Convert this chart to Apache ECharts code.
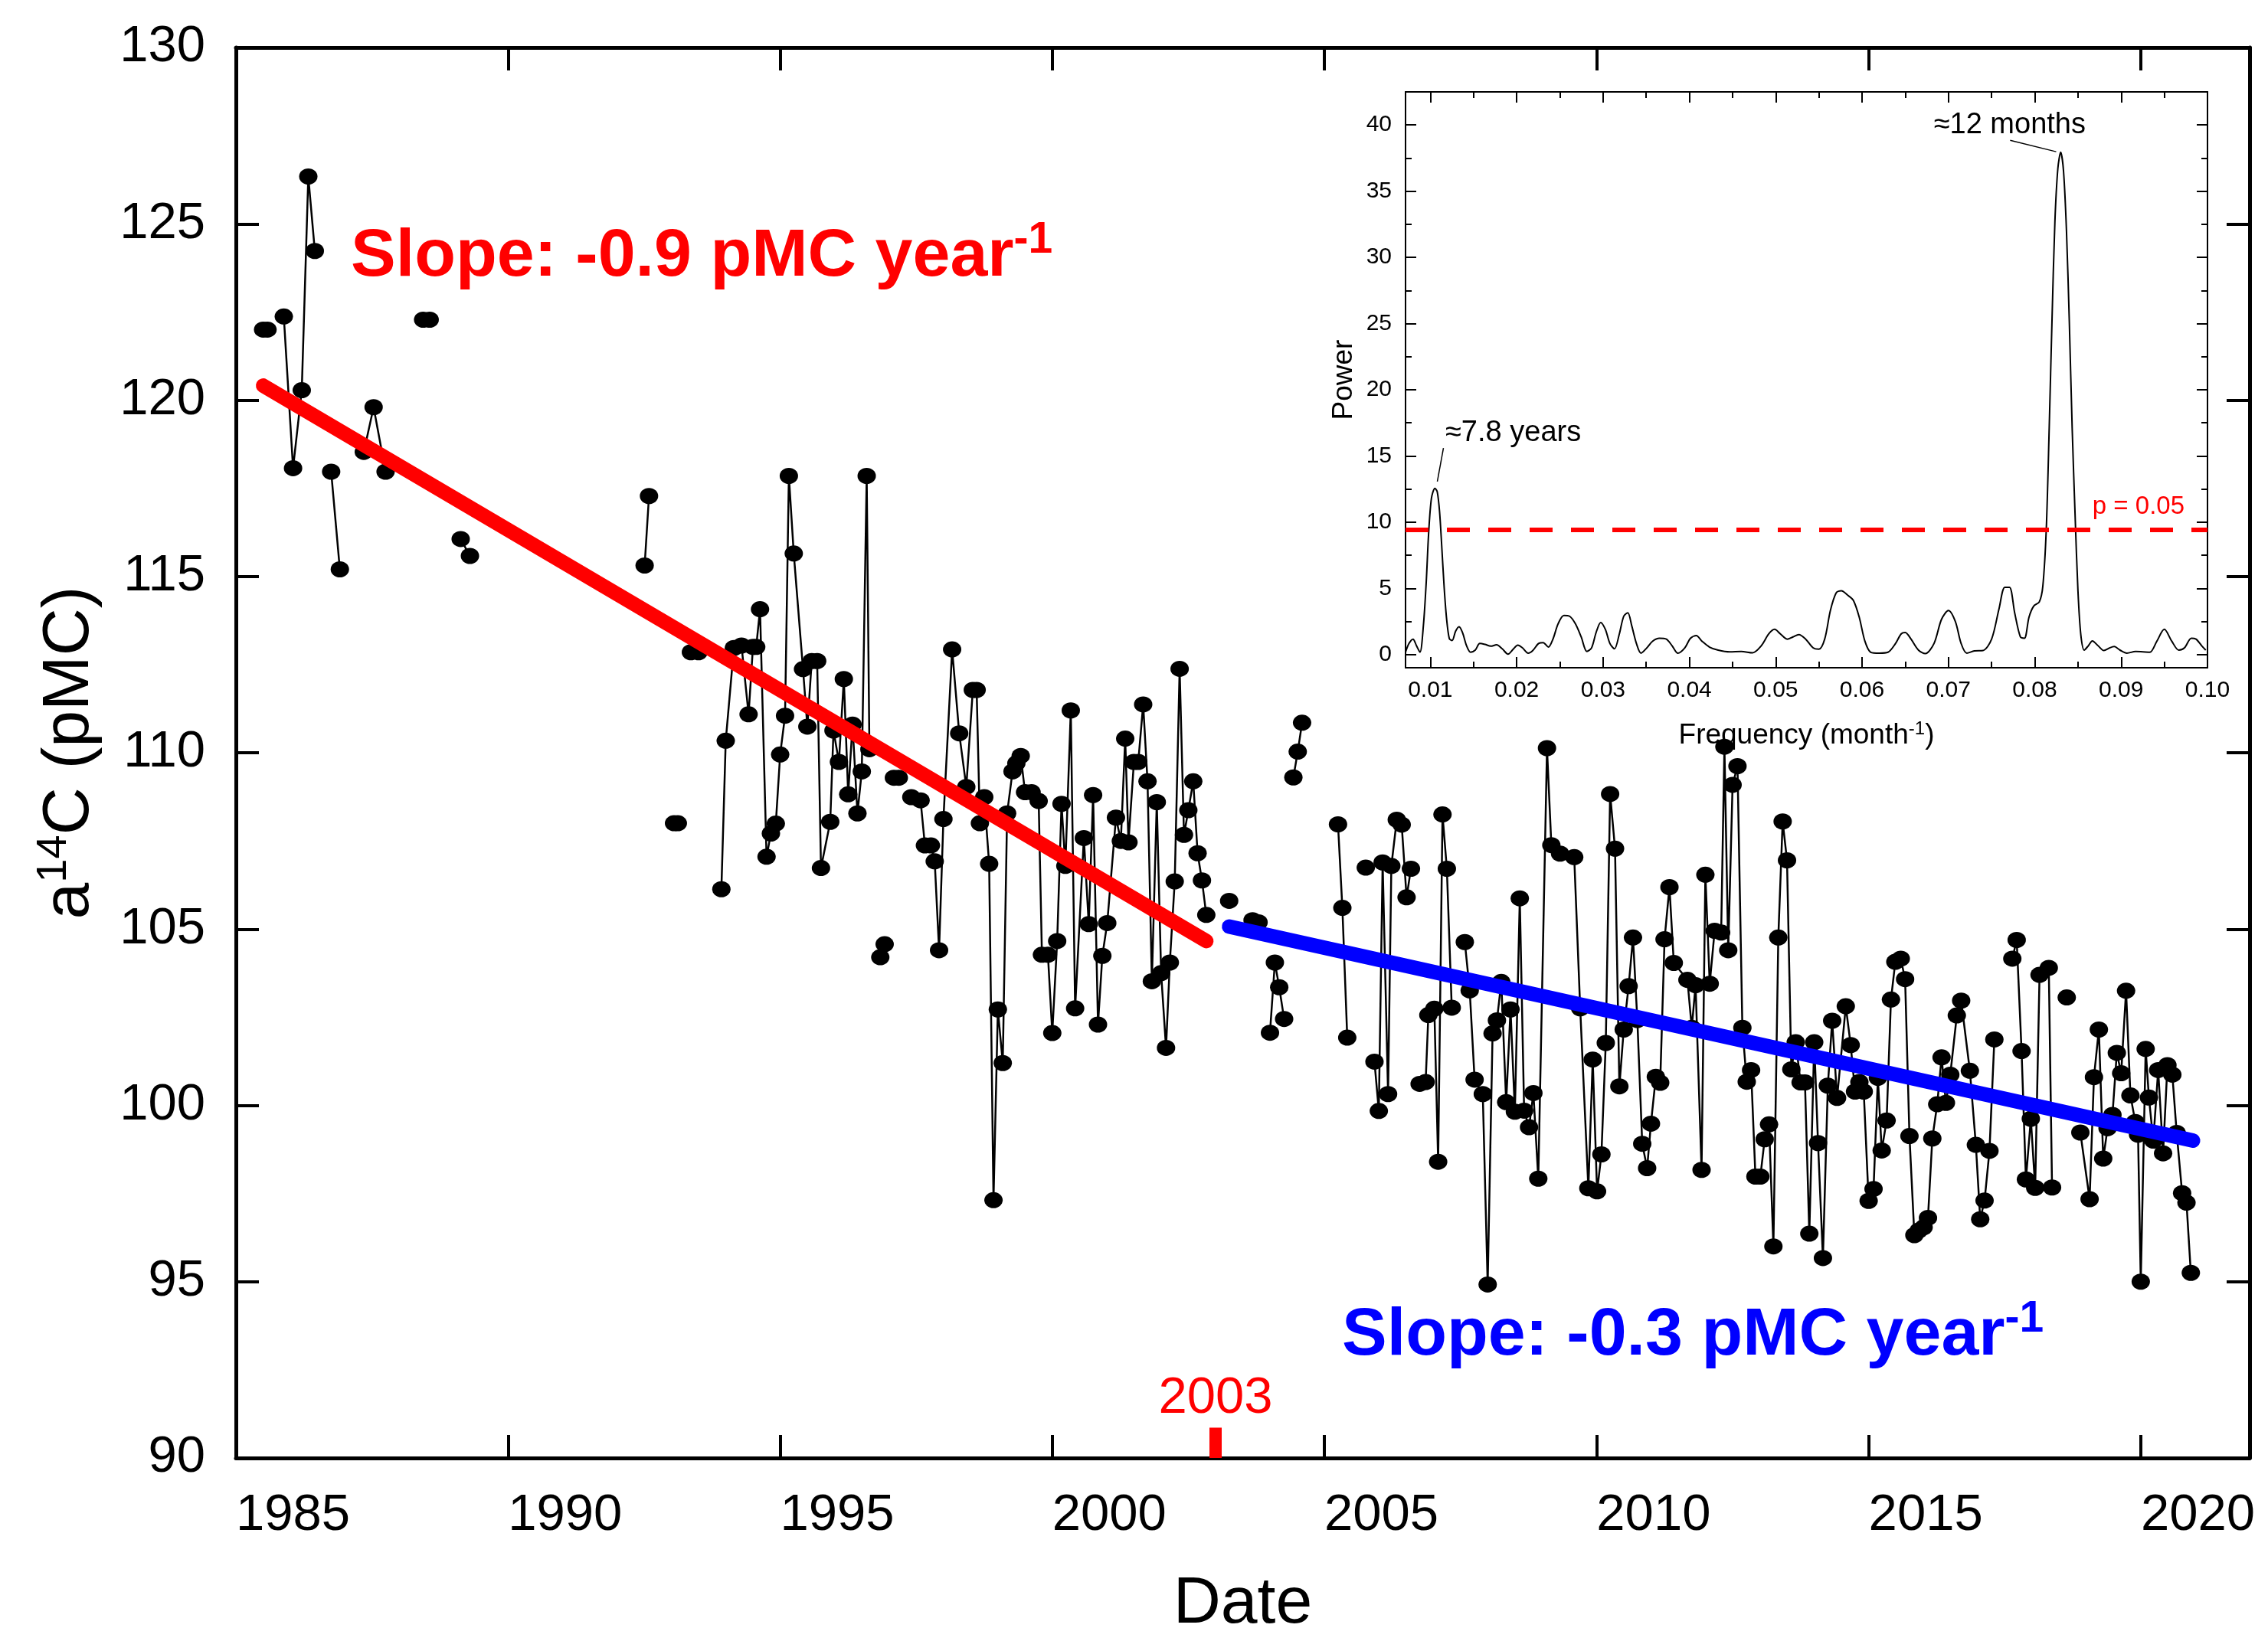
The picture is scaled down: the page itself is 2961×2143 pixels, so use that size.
<!DOCTYPE html>
<html>
<head>
<meta charset="utf-8">
<script src="https://cdn.jsdelivr.net/npm/echarts@6/dist/echarts.min.js"></script>
<style>
  html, body { margin: 0; padding: 0; background: #fff; }
  #main { width: 2961px; height: 2143px; }
</style>
</head>
<body>
<div id="main"></div>
<script>
// a14C record (pMC) by decimal date; null = break in the line (no data)
var dates = [
  1985.50, 1985.58, 1985.72, 1985.88, 1986.05, 1986.21, 1986.33, 1986.45, 1986.60, 1986.75,
  1986.91, 1987.10, 1987.35, 1987.53, 1987.75, 1988.10, 1988.44, 1988.56, 1988.80, 1989.13,
  1989.30, 1991.00, 1992.51, 1992.59, 1992.80, 1993.05, 1993.12, 1993.25, 1993.36, 1993.50,
  1993.75, 1993.92, 1994.00, 1994.15, 1994.29, 1994.42, 1994.50, 1994.56, 1994.63, 1994.75,
  1994.83, 1994.92, 1995.00, 1995.09, 1995.16, 1995.25, 1995.42, 1995.50, 1995.58, 1995.68,
  1995.75, 1995.92, 1995.98, 1996.08, 1996.17, 1996.25, 1996.33, 1996.42, 1996.50, 1996.59,
  1996.64, 1996.75, 1996.84, 1996.92, 1997.00, 1997.09, 1997.18, 1997.30, 1997.41, 1997.58,
  1997.66, 1997.77, 1997.84, 1997.92, 1998.00, 1998.16, 1998.29, 1998.42, 1998.54, 1998.61,
  1998.67, 1998.75, 1998.84, 1998.92, 1999.00, 1999.09, 1999.17, 1999.27, 1999.34, 1999.42,
  1999.50, 1999.62, 1999.75, 1999.81, 1999.92, 2000.00, 2000.09, 2000.17, 2000.24, 2000.34,
  2000.42, 2000.58, 2000.67, 2000.75, 2000.84, 2000.92, 2001.01, 2001.17, 2001.26, 2001.34,
  2001.40, 2001.50, 2001.58, 2001.67, 2001.75, 2001.83, 2001.92, 2002.00, 2002.09, 2002.16,
  2002.25, 2002.34, 2002.42, 2002.50, 2002.59, 2002.67, 2002.75, 2002.83, 2003.05, 2003.25,
  2003.45, 2003.68, 2003.79, 2003.90, 2004.00, 2004.09, 2004.17, 2004.26, 2004.35, 2004.43,
  2004.51, 2004.59, 2004.90, 2005.25, 2005.33, 2005.42, 2005.60, 2005.76, 2005.85, 2005.92,
  2006.00, 2006.07, 2006.17, 2006.23, 2006.33, 2006.42, 2006.51, 2006.59, 2006.67, 2006.75,
  2006.86, 2006.91, 2007.02, 2007.09, 2007.17, 2007.25, 2007.34, 2007.46, 2007.58, 2007.67,
  2007.76, 2007.91, 2008.00, 2008.09, 2008.17, 2008.25, 2008.34, 2008.42, 2008.50, 2008.59,
  2008.67, 2008.76, 2008.84, 2008.93, 2009.09, 2009.17, 2009.33, 2009.59, 2009.70, 2009.85,
  2009.93, 2010.01, 2010.09, 2010.17, 2010.25, 2010.34, 2010.42, 2010.50, 2010.59, 2010.67,
  2010.75, 2010.84, 2010.93, 2011.00, 2011.09, 2011.17, 2011.25, 2011.34, 2011.42, 2011.67,
  2011.75, 2011.82, 2011.93, 2012.00, 2012.08, 2012.17, 2012.29, 2012.35, 2012.42, 2012.50,
  2012.59, 2012.68, 2012.76, 2012.84, 2012.92, 2013.01, 2013.09, 2013.17, 2013.25, 2013.34,
  2013.42, 2013.50, 2013.58, 2013.66, 2013.75, 2013.83, 2013.91, 2014.00, 2014.07, 2014.16,
  2014.25, 2014.33, 2014.42, 2014.58, 2014.67, 2014.75, 2014.83, 2014.91, 2015.00, 2015.09,
  2015.17, 2015.24, 2015.33, 2015.41, 2015.49, 2015.59, 2015.67, 2015.75, 2015.84, 2015.92,
  2016.01, 2016.09, 2016.17, 2016.26, 2016.34, 2016.42, 2016.50, 2016.62, 2016.70, 2016.86,
  2016.97, 2017.05, 2017.13, 2017.22, 2017.31, 2017.48, 2017.64, 2017.72, 2017.81, 2017.89,
  2017.98, 2018.06, 2018.14, 2018.31, 2018.37, 2018.50, 2018.64, 2018.76, 2018.89, 2019.06,
  2019.14, 2019.23, 2019.31, 2019.39, 2019.48, 2019.56, 2019.64, 2019.73, 2019.81, 2019.90,
  2019.95, 2020.00, 2020.09, 2020.15, 2020.23, 2020.32, 2020.41, 2020.49, 2020.58, 2020.66,
  2020.76, 2020.84, 2020.92
];
var pmc = [
  122.0, 122.0, null, 122.37, 118.07, 120.28, 126.34, 124.23, null, 117.97,
  115.2, null, 118.53, 119.8, 117.97, null, 122.28, 122.28, null, 116.06,
  115.58, null, 115.31, 117.28, null, 108.0, 108.0, null, 112.85, 112.85,
  null, 106.13, 110.34, 112.97, 113.04, 111.09, 113.0, 113.0, 114.07, 107.05,
  107.71, 107.99, 109.95, 111.05, 117.85, 115.65, 112.37, 110.74, 112.6, 112.6,
  106.73, 108.04, 110.63, 109.74, 112.09, 108.82, 110.8, 108.28, 109.47, 117.85,
  110.1, null, 104.2, 104.57, null, 109.29, 109.29, null, 108.74, 108.65,
  107.37, 107.37, 106.92, 104.4, 108.12, 112.93, 110.55, 109.03, 111.78, 111.78,
  108.0, 108.74, 106.85, 97.31, 102.72, 101.2, 108.28, 109.47, 109.7, 109.91,
  108.88, 108.88, 108.63, 104.27, 104.27, 102.05, 104.66, 108.55, 106.79, 111.2,
  102.75, 107.58, 105.14, 108.8, 102.29, 104.24, 105.17, 108.16, 107.5, 110.4,
  107.46, 109.74, 109.74, 111.37, 109.19, 103.52, 108.6, 103.75, 101.63, 104.05,
  106.35, 112.38, 107.67, 108.37, 109.19, 107.15, 106.38, 105.4, null, 105.8,
  null, 105.25, 105.19, null, 102.06, 104.05, 103.35, 102.45, null, 109.3,
  110.03, 110.85, null, 107.97, 105.6, 101.92, null, 106.74, null, 101.24,
  99.84, 106.89, 100.32, 106.79, 108.1, 107.96, 105.9, 106.71, null, 100.61,
  100.66, 102.56, 102.74, 98.4, 108.25, 106.71, 102.77, null, 104.63, 103.26,
  100.73, 100.32, 94.92, 102.04, 102.41, 103.5, 100.09, 102.72, 99.82, 105.87,
  99.85, 99.38, 100.35, 97.92, 110.13, 107.38, 107.14, 107.04, 102.75, 97.65,
  101.3, 97.56, 98.61, 101.77, 108.83, 107.28, 100.54, 102.15, 103.38, 104.76,
  102.42, 98.91, 98.22, 99.48, 100.81, 100.64, 104.71, 106.19, 104.04, 103.56,
  102.2, 103.41, 98.17, 106.54, 103.45, 104.95, 104.9, 110.17, 104.4, 109.09,
  109.62, 102.2, 100.67, 101.0, 97.98, 97.98, 99.04, 99.46, 96.0, 104.76,
  108.05, 106.95, 101.02, 101.79, 100.65, 100.65, 96.36, 101.79, 98.93, 95.67,
  100.56, 102.4, 100.21, 102.81, 101.71, 100.39, 100.66, 100.39, 97.29, 97.63,
  100.78, 98.72, 99.57, 103.0, 104.07, 104.16, 103.58, 99.13, 96.32, 96.45,
  96.54, 96.81, 99.06, 100.03, 101.36, 100.07, 100.87, 102.55, 102.97, 100.98,
  98.88, 96.77, 97.3, 98.71, 101.87, null, 104.16, 104.69, 101.54, 97.9,
  99.62, 97.66, 103.7, 103.9, 97.67, null, 103.06, null, 99.23, 97.34,
  100.8, 102.15, 98.49, 99.35, 99.73, 101.49, 100.91, 103.25, 100.28, 99.53,
  99.17, 95.0, 101.6, 100.22, 99.0, 101.0, 98.64, 101.14, 100.87, 99.22,
  97.51, 97.24, 95.25
];

// linear fits (end points)
var redFitX = [1985.5, 2002.83];
var redFitY = [120.41, 104.66];
var blueFitX = [2003.25, 2020.96];
var blueFitY = [105.07, 99.0];
var breakYear = 2003;

var yearTicks = [1985, 1990, 1995, 2000, 2005, 2010, 2015, 2020];

// periodogram (inset)
var freq = [
  0.00713, 0.00753, 0.0080, 0.0084, 0.0088, 0.0092, 0.00953, 0.0098, 0.01013, 0.01053,
  0.0108, 0.01107, 0.01133, 0.0116, 0.01187, 0.0122, 0.01253, 0.01293, 0.01333, 0.01373,
  0.0142, 0.01467, 0.0152, 0.01573, 0.01633, 0.017, 0.01767, 0.01833, 0.019, 0.0196,
  0.02013, 0.02067, 0.02133, 0.02187, 0.02253, 0.02307, 0.02367, 0.0242, 0.0248, 0.02547,
  0.02613, 0.0268, 0.02747, 0.02813, 0.02867, 0.0292, 0.02973, 0.03027, 0.0308, 0.03133,
  0.03187, 0.0324, 0.03287, 0.03333, 0.03387, 0.0344, 0.03507, 0.03573, 0.03653, 0.03733,
  0.038, 0.03867, 0.03947, 0.04013, 0.0408, 0.04147, 0.04233, 0.04333, 0.04467, 0.046,
  0.04733, 0.04833, 0.0492, 0.04987, 0.05053, 0.05133, 0.052, 0.05267, 0.05347, 0.05433,
  0.055, 0.05567, 0.05633, 0.057, 0.0576, 0.05833, 0.059, 0.05967, 0.06033, 0.061,
  0.062, 0.063, 0.06387, 0.06453, 0.065, 0.06567, 0.06653, 0.06733, 0.06833, 0.0692,
  0.07, 0.0708, 0.07147, 0.07213, 0.073, 0.074, 0.075, 0.07587, 0.07653, 0.07707,
  0.07767, 0.07833, 0.0788, 0.07933, 0.07987, 0.08053, 0.08093, 0.08133, 0.08167, 0.082,
  0.08233, 0.08267, 0.083, 0.08333, 0.08367, 0.084, 0.08433, 0.08467, 0.085, 0.08533,
  0.08573, 0.0862, 0.08667, 0.08733, 0.088, 0.08867, 0.0892, 0.08987, 0.09067, 0.09167,
  0.09253, 0.09333, 0.09413, 0.095, 0.09587, 0.09667, 0.09733, 0.09813, 0.09867, 0.09933,
  0.0998
];
var power = [
  0.17, 0.83, 1.16, 0.66, 0.17, 2.2, 5.5, 9.1, 11.8, 12.55,
  12.3, 10.8, 8.1, 5.1, 2.8, 1.2, 1.06, 1.76, 2.1, 1.66,
  0.66, 0.17, 0.33, 0.83, 0.76, 0.63, 0.73, 0.43, 0.03, 0.4,
  0.7, 0.5, 0.1, 0.3, 0.83, 0.9, 0.56, 1.16, 2.32, 2.95,
  2.89, 2.32, 1.33, 0.23, 0.5, 1.66, 2.42, 1.9, 0.83, 0.43,
  1.5, 2.89, 3.15, 2.16, 0.83, 0.1, 0.5, 1.0, 1.23, 1.16,
  0.66, 0.1, 0.5, 1.23, 1.43, 1.0, 0.56, 0.33, 0.2, 0.23,
  0.13, 0.66, 1.56, 1.9, 1.56, 1.16, 1.33, 1.5, 1.16, 0.5,
  0.4, 1.16, 3.32, 4.65, 4.81, 4.48, 4.08, 2.82, 1.0, 0.17,
  0.1, 0.17, 0.83, 1.56, 1.66, 1.16, 0.33, 0.07, 0.83, 2.66,
  3.32, 2.49, 0.83, 0.1, 0.27, 0.3, 1.16, 3.49, 5.08, 5.08,
  3.15, 1.33, 1.23, 2.82, 3.65, 3.98, 5.15, 9.46, 17.1, 25.4,
  32.7, 36.7, 37.94, 36.5, 32.0, 25.1, 17.1, 10.5, 4.8, 1.5,
  0.33, 0.66, 1.03, 0.66, 0.3, 0.5, 0.6, 0.33, 0.1, 0.23,
  0.2, 0.17, 1.0, 1.9, 1.0, 0.33, 0.5, 1.23, 1.16, 0.66,
  0.33
];
var pThreshold = 9.4;
var freqTicks = [0.01, 0.02, 0.03, 0.04, 0.05, 0.06, 0.07, 0.08, 0.09, 0.10];
var freqMinor = [0.015, 0.025, 0.035, 0.045, 0.055, 0.065, 0.075, 0.085, 0.095];
var powerTicks = [0, 5, 10, 15, 20, 25, 30, 35, 40];
var powerMinor = [2.5, 7.5, 12.5, 17.5, 22.5, 27.5, 32.5, 37.5];

var FONT = 'Liberation Sans';

var chart = echarts.init(document.getElementById('main'));

var mainData = dates.map(function (d, i) {
  return [d, pmc[i] === null ? '-' : pmc[i]];
});
var periodData = freq.map(function (f, i) { return [f, power[i]]; });

// mirrored / minor-tick axes: line + inward ticks, no labels
function tickAxis(o) {
  var base = {
    type: 'value',
    splitLine: { show: false },
    axisLine: { show: true, onZero: false, lineStyle: { color: '#000', width: o.lineWidth || 5 } },
    axisTick: { show: true, inside: true, length: o.tickLen, lineStyle: { color: '#000', width: o.tickWidth || 4 } },
    axisLabel: { show: false }
  };
  for (var k in o.extra) base[k] = o.extra[k];
  return base;
}

var option = {
  animation: false,
  backgroundColor: '#fff',
  grid: [
    { left: 308, top: 62, width: 2629, height: 1858, containLabel: false },
    { left: 1835, top: 120, width: 1047, height: 752, show: true, backgroundColor: '#fff', borderWidth: 0 }
  ],
  xAxis: [
    // main, bottom
    {
      type: 'value', gridIndex: 0, min: 1985, max: 2022, position: 'bottom',
      splitLine: { show: false },
      axisLine: { onZero: false, lineStyle: { color: '#000', width: 5 } },
      axisTick: { inside: true, length: 30, customValues: yearTicks, lineStyle: { color: '#000', width: 4 } },
      axisLabel: { customValues: yearTicks, align: 'left', margin: 42, fontSize: 67, fontFamily: FONT, color: '#000',
        formatter: function (v) { return String(v); } },
      name: 'Date', nameLocation: 'middle', nameGap: 148,
      nameTextStyle: { fontSize: 86, fontFamily: FONT, color: '#000' }
    },
    // main, top mirror
    tickAxis({ tickLen: 30, extra: { gridIndex: 0, min: 1985, max: 2022, position: 'top',
      axisTick: { inside: true, length: 30, customValues: yearTicks, lineStyle: { color: '#000', width: 4 } } } }),
    // inset, bottom
    {
      type: 'value', gridIndex: 1, min: 0.00713, max: 0.1, position: 'bottom',
      splitLine: { show: false },
      axisLine: { onZero: false, lineStyle: { color: '#000', width: 2 } },
      axisTick: { inside: true, length: 14, customValues: freqTicks, lineStyle: { color: '#000', width: 2 } },
      axisLabel: { customValues: freqTicks, margin: 15, fontSize: 30, fontFamily: FONT, color: '#000',
        formatter: function (v) { return v.toFixed(2); } },
      name: '{n|Frequency (month}{s|-1}{n|)}', nameLocation: 'middle', nameGap: 68,
      nameTextStyle: { fontFamily: FONT, color: '#000', rich: {
        n: { fontSize: 37, fontFamily: FONT, color: '#000', lineHeight: 42 },
        s: { fontSize: 24, fontFamily: FONT, color: '#000', lineHeight: 24, verticalAlign: 'top' } } }
    },
    // inset, top mirror
    tickAxis({ tickLen: 14, lineWidth: 2, tickWidth: 2, extra: { gridIndex: 1, min: 0.00713, max: 0.1, position: 'top',
      axisTick: { inside: true, length: 14, customValues: freqTicks, lineStyle: { color: '#000', width: 2 } } } }),
    // inset minor ticks bottom / top
    tickAxis({ tickLen: 8, extra: { gridIndex: 1, min: 0.00713, max: 0.1, position: 'bottom',
      axisLine: { show: false, onZero: false },
      axisTick: { inside: true, length: 8, customValues: freqMinor, lineStyle: { color: '#000', width: 2 } } } }),
    tickAxis({ tickLen: 8, extra: { gridIndex: 1, min: 0.00713, max: 0.1, position: 'top',
      axisLine: { show: false, onZero: false },
      axisTick: { inside: true, length: 8, customValues: freqMinor, lineStyle: { color: '#000', width: 2 } } } })
  ],
  yAxis: [
    // main, left
    {
      type: 'value', gridIndex: 0, min: 90, max: 130, interval: 5, position: 'left',
      splitLine: { show: false },
      axisLine: { show: true, onZero: false, lineStyle: { color: '#000', width: 5 } },
      axisTick: { show: true, inside: true, length: 30, lineStyle: { color: '#000', width: 4 } },
      axisLabel: { margin: 40, fontSize: 67, fontFamily: FONT, color: '#000' },
      name: '{n|a}{s|14}{n|C (pMC)}', nameLocation: 'middle', nameGap: 169,
      nameTextStyle: { fontFamily: FONT, color: '#000', rich: {
        n: { fontSize: 86, fontFamily: FONT, color: '#000', lineHeight: 96 },
        s: { fontSize: 56, fontFamily: FONT, color: '#000', lineHeight: 56, verticalAlign: 'top' } } }
    },
    // main, right mirror
    tickAxis({ tickLen: 30, extra: { gridIndex: 0, min: 90, max: 130, interval: 5, position: 'right' } }),
    // inset, left
    {
      type: 'value', gridIndex: 1, min: -1, max: 42.5, position: 'left',
      splitLine: { show: false },
      axisLine: { show: true, onZero: false, lineStyle: { color: '#000', width: 2 } },
      axisTick: { show: true, inside: true, length: 14, customValues: powerTicks, lineStyle: { color: '#000', width: 2 } },
      axisLabel: { customValues: powerTicks, margin: 18, fontSize: 30, fontFamily: FONT, color: '#000' },
      name: 'Power', nameLocation: 'middle', nameGap: 62,
      nameTextStyle: { fontSize: 37, fontFamily: FONT, color: '#000' }
    },
    // inset, right mirror
    tickAxis({ tickLen: 14, lineWidth: 2, tickWidth: 2, extra: { gridIndex: 1, min: -1, max: 42.5, position: 'right',
      axisTick: { inside: true, length: 14, customValues: powerTicks, lineStyle: { color: '#000', width: 2 } } } }),
    // inset minor ticks left / right
    tickAxis({ tickLen: 8, extra: { gridIndex: 1, min: -1, max: 42.5, position: 'left',
      axisLine: { show: false, onZero: false },
      axisTick: { inside: true, length: 8, customValues: powerMinor, lineStyle: { color: '#000', width: 2 } } } }),
    tickAxis({ tickLen: 8, extra: { gridIndex: 1, min: -1, max: 42.5, position: 'right',
      axisLine: { show: false, onZero: false },
      axisTick: { inside: true, length: 8, customValues: powerMinor, lineStyle: { color: '#000', width: 2 } } } })
  ],
  series: [
    {
      name: 'a14C', type: 'line', xAxisIndex: 0, yAxisIndex: 0,
      data: mainData, connectNulls: false,
      symbol: 'circle', symbolSize: [24, 21], showSymbol: true,
      itemStyle: { color: '#000' },
      lineStyle: { color: '#000', width: 2.5 },
      z: 2
    },
    {
      name: 'fit 1', type: 'line', xAxisIndex: 0, yAxisIndex: 0,
      data: [[redFitX[0], redFitY[0]], [redFitX[1], redFitY[1]]],
      symbol: 'none', lineStyle: { color: '#ff0000', width: 19, cap: 'round' },
      z: 3,
      markLine: {
        silent: true, symbol: ['none', 'none'],
        lineStyle: { color: '#ff0000', width: 16, type: 'solid' },
        label: { show: true, position: 'end', formatter: String(breakYear), color: '#ff0000',
          fontSize: 67, fontFamily: FONT, distance: 4 },
        data: [[{ coord: [breakYear, 90] }, { coord: [breakYear, 90.86] }]]
      }
    },
    {
      name: 'fit 2', type: 'line', xAxisIndex: 0, yAxisIndex: 0,
      data: [[blueFitX[0], blueFitY[0]], [blueFitX[1], blueFitY[1]]],
      symbol: 'none', lineStyle: { color: '#0000ff', width: 19, cap: 'round' },
      z: 3
    },
    {
      name: 'periodogram', type: 'line', xAxisIndex: 2, yAxisIndex: 2,
      data: periodData, symbol: 'none', smooth: 0.3,
      lineStyle: { color: '#000', width: 2 },
      z: 4,
      markLine: {
        silent: true, symbol: ['none', 'none'],
        data: [
          {
            yAxis: pThreshold,
            lineStyle: { color: '#ff0000', width: 6, type: [30, 24] },
            label: { show: true, position: 'insideEndTop', formatter: 'p = 0.05', color: '#ff0000',
              fontSize: 33, fontFamily: FONT, distance: [30, 14] }
          },
          [
            { coord: [0.07715, 38.84], lineStyle: { color: '#000', width: 1.5, type: 'solid' }, label: { show: false } },
            { coord: [0.08248, 37.98] }
          ],
          [
            { coord: [0.01152, 15.6], lineStyle: { color: '#000', width: 1.5, type: 'solid' }, label: { show: false } },
            { coord: [0.01081, 13.06] }
          ]
        ]
      },
      markPoint: {
        silent: true, symbol: 'circle', symbolSize: 1,
        itemStyle: { color: 'rgba(0,0,0,0)' },
        label: { show: true, position: 'inside', color: '#000', fontSize: 38, fontFamily: FONT },
        data: [
          { coord: [0.0771, 40.0], label: { formatter: '\u224812 months' } },
          { coord: [0.0196, 16.7], label: { formatter: '\u22487.8 years' } }
        ]
      }
    }
  ],
  graphic: [
    {
      type: 'text', x: 458, y: 336, silent: true, z: 10,
      style: {
        text: '{m|Slope: -0.9 pMC year}{s|-1}', align: 'left', verticalAlign: 'middle',
        rich: {
          m: { fontSize: 88, fontWeight: 'bold', fontFamily: FONT, fill: '#ff0000', lineHeight: 100 },
          s: { fontSize: 57, fontWeight: 'bold', fontFamily: FONT, fill: '#ff0000', lineHeight: 50, verticalAlign: 'top' }
        }
      }
    },
    {
      type: 'text', x: 1752, y: 1745, silent: true, z: 10,
      style: {
        text: '{m|Slope: -0.3 pMC year}{s|-1}', align: 'left', verticalAlign: 'middle',
        rich: {
          m: { fontSize: 88, fontWeight: 'bold', fontFamily: FONT, fill: '#0000ff', lineHeight: 100 },
          s: { fontSize: 57, fontWeight: 'bold', fontFamily: FONT, fill: '#0000ff', lineHeight: 50, verticalAlign: 'top' }
        }
      }
    }
  ]
};

chart.setOption(option);
</script>
</body>
</html>
